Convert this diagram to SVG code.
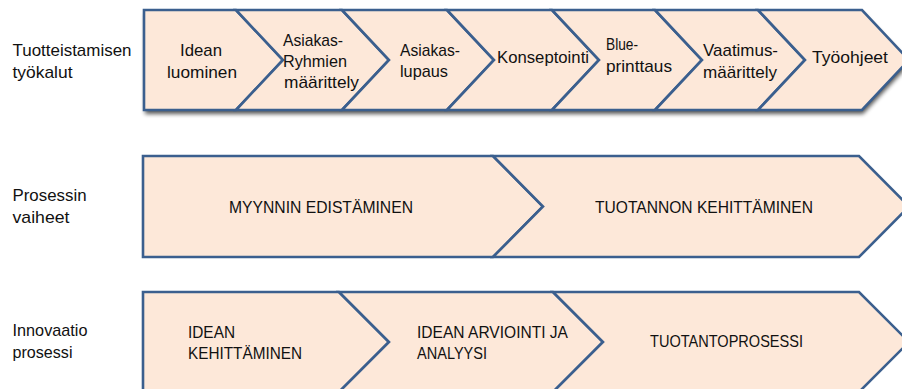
<svg xmlns="http://www.w3.org/2000/svg" width="902" height="389" viewBox="0 0 902 389">
<defs>
<filter id="blur" x="-5%" y="-20%" width="110%" height="150%"><feGaussianBlur stdDeviation="2.2"/></filter>
</defs>
<style>
.s{fill:#FDE8D9;stroke:#3B5F8E;stroke-width:2.6;stroke-linejoin:miter}
text{font-family:"Liberation Sans",Arial,sans-serif;font-size:17px;fill:#111}
</style>
<rect width="902" height="389" fill="#fff"/>
<g id="labels">
<g id="label-tuotteistamisen"><text x="12.5" y="56" textLength="119" lengthAdjust="spacingAndGlyphs">Tuotteistamisen</text><text x="12.5" y="78" textLength="60" lengthAdjust="spacingAndGlyphs">työkalut</text></g>
<g id="label-prosessin"><text x="12.5" y="201" textLength="74" lengthAdjust="spacingAndGlyphs">Prosessin</text><text x="12.5" y="223" textLength="57" lengthAdjust="spacingAndGlyphs">vaiheet</text></g>
<g id="label-innovaatio"><text x="12.5" y="336" textLength="75" lengthAdjust="spacingAndGlyphs">Innovaatio</text><text x="12.5" y="358" textLength="60" lengthAdjust="spacingAndGlyphs">prosessi</text></g>
</g>
<g id="row1">
<polygon points="144,10 862,10 909,60 862,110 144,110" fill="#000" opacity="0.65" transform="translate(1,4)" filter="url(#blur)"/>
<g id="n-idean"><polygon class="s" points="144,10 236,10 283,60 236,110 144,110"/><text x="180" y="56" textLength="42" lengthAdjust="spacingAndGlyphs">Idean</text><text x="167" y="78" textLength="70" lengthAdjust="spacingAndGlyphs">luominen</text></g>
<g id="n-asiakasryhmien"><polygon class="s" points="236,10 342,10 389,60 342,110 236,110 283,60"/><text x="283" y="46" textLength="60" lengthAdjust="spacingAndGlyphs">Asiakas-</text><text x="283" y="67" textLength="64" lengthAdjust="spacingAndGlyphs">Ryhmien</text><text x="284" y="88" textLength="75" lengthAdjust="spacingAndGlyphs">määrittely</text></g>
<g id="n-asiakaslupaus"><polygon class="s" points="342,10 447,10 494,60 447,110 342,110 389,60"/><text x="400" y="56" textLength="60" lengthAdjust="spacingAndGlyphs">Asiakas-</text><text x="400" y="77" textLength="48" lengthAdjust="spacingAndGlyphs">lupaus</text></g>
<g id="n-konseptointi"><polygon class="s" points="447,10 552,10 599,60 552,110 447,110 494,60"/><text x="497" y="63" textLength="92" lengthAdjust="spacingAndGlyphs">Konseptointi</text></g>
<g id="n-blueprinttaus"><polygon class="s" points="552,10 655,10 702,60 655,110 552,110 599,60"/><text x="606" y="50" textLength="32" lengthAdjust="spacingAndGlyphs">Blue-</text><text x="606" y="72" textLength="66" lengthAdjust="spacingAndGlyphs">printtaus</text></g>
<g id="n-vaatimusmaarittely"><polygon class="s" points="655,10 758,10 805,60 758,110 655,110 702,60"/><text x="703" y="56" textLength="75" lengthAdjust="spacingAndGlyphs">Vaatimus-</text><text x="703" y="78" textLength="74" lengthAdjust="spacingAndGlyphs">määrittely</text></g>
<g id="n-tyoohjeet"><polygon class="s" points="758,10 862,10 909,60 862,110 758,110 805,60"/><text x="812" y="63" textLength="76" lengthAdjust="spacingAndGlyphs">Työohjeet</text></g>
</g>
<g id="row2">
<g id="n-myynnin"><polygon class="s" points="143,156 493,156 543,206.5 493,257 143,257"/><text x="229" y="213" textLength="184" lengthAdjust="spacingAndGlyphs">MYYNNIN EDISTÄMINEN</text></g>
<g id="n-tuotannon"><polygon class="s" points="493,156 859,156 909,206.5 859,257 493,257 543,206.5"/><text x="595" y="213" textLength="218" lengthAdjust="spacingAndGlyphs">TUOTANNON KEHITTÄMINEN</text></g>
</g>
<g id="row3">
<g id="n-ideankehittaminen"><polygon class="s" points="143,292 339,292 389,342 339,392 143,392"/><text x="188" y="338" textLength="47" lengthAdjust="spacingAndGlyphs">IDEAN</text><text x="188" y="359" textLength="114" lengthAdjust="spacingAndGlyphs">KEHITTÄMINEN</text></g>
<g id="n-ideanarviointi"><polygon class="s" points="339,292 553,292 603,342 553,392 339,392 389,342"/><text x="417" y="337.5" textLength="151" lengthAdjust="spacingAndGlyphs">IDEAN ARVIOINTI JA</text><text x="417" y="359" textLength="70" lengthAdjust="spacingAndGlyphs">ANALYYSI</text></g>
<g id="n-tuotantoprosessi"><polygon class="s" points="553,292 859,292 909,342 859,392 553,392 603,342"/><text x="650" y="347" textLength="153" lengthAdjust="spacingAndGlyphs">TUOTANTOPROSESSI</text></g>
</g>
<g id="connectors"/>
</svg>
